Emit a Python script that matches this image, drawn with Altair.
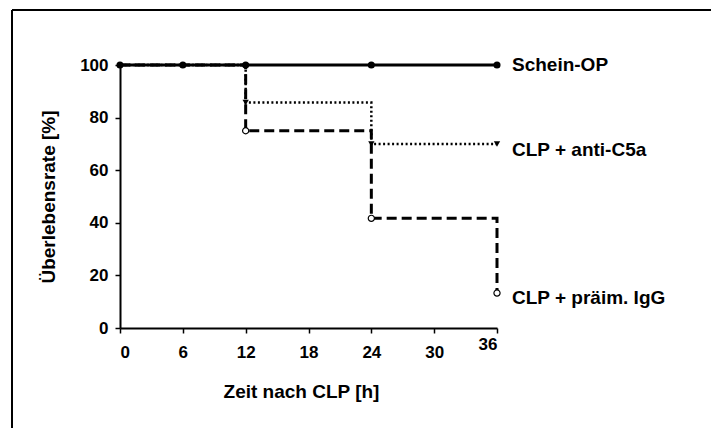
import altair as alt
import pandas as pd

# Data
sham_t = [0, 6, 12, 24, 36]
sham_v = [100, 100, 100, 100, 100]
c5a_t = [0, 12, 24, 36]
c5a_v = [100, 85.7, 70, 70]
igg_t = [0, 12, 24, 36]
igg_v = [100, 75, 41.7, 13.3]
c5a_mark_t = [12, 24, 36]
c5a_mark_v = [85.7, 70, 70]
igg_mark_t = [12, 24, 36]
igg_mark_v = [75, 41.7, 13.3]
x_ticks = [0, 6, 12, 18, 24, 30, 36]
y_ticks = [0, 20, 40, 60, 80, 100]
labels = ["Schein-OP", "CLP + anti-C5a", "CLP + präim. IgG"]
label_v = [sham_v[-1], c5a_v[-1], igg_v[-1]]

FONT = "Liberation Sans"

sham = pd.DataFrame({"t": sham_t, "v": sham_v})
c5a = pd.DataFrame({"t": c5a_t, "v": c5a_v})
igg = pd.DataFrame({"t": igg_t, "v": igg_v})
c5a_m = pd.DataFrame({"t": c5a_mark_t, "v": c5a_mark_v})
igg_m = pd.DataFrame({"t": igg_mark_t, "v": igg_mark_v})

xs = alt.Scale(domain=[0, 36], nice=False, zero=False)
ys = alt.Scale(domain=[0, 100], nice=False)

X = alt.X("t:Q", scale=xs, title="Zeit nach CLP [h]",
          axis=alt.Axis(values=x_ticks, grid=False, titlePadding=22, labelPadding=11,
                        titleX=181,
                        labelBaseline={"condition": {"test": "datum.value == 36",
                                                     "value": "middle"},
                                       "value": "top"}))
Y = alt.Y("v:Q", scale=ys, title="Überlebensrate [%]",
          axis=alt.Axis(values=y_ticks, grid=False, titlePadding=21, labelPadding=7))

base_axes = alt.Chart(sham).mark_line(strokeWidth=3, color="black").encode(x=X, y=Y)

c5a_line = alt.Chart(c5a).mark_line(interpolate="step-after", color="black",
                                    strokeWidth=2.5, strokeDash=[2, 2.5]).encode(x="t:Q", y="v:Q")
igg_line = alt.Chart(igg).mark_line(interpolate="step-after", color="black",
                                    strokeWidth=3, strokeDash=[10, 5]).encode(x="t:Q", y="v:Q")
sham_pts = alt.Chart(sham).mark_point(shape="circle", filled=True, color="black",
                                      size=50, opacity=1).encode(x="t:Q", y="v:Q")
c5a_pts = alt.Chart(c5a_m).mark_point(shape="triangle-down", filled=True, color="black",
                                      size=40, opacity=1).encode(x="t:Q", y="v:Q")
igg_pts = alt.Chart(igg_m).mark_point(shape="circle", filled=True, fill="white",
                                      stroke="black", strokeWidth=1.2, size=38,
                                      opacity=1).encode(x="t:Q", y="v:Q")

def lab(i, dy):
    d = pd.DataFrame({"t": [36], "v": [label_v[i]], "name": [labels[i]]})
    return alt.Chart(d).mark_text(align="left", baseline="middle", dx=15, dy=dy,
                                  font=FONT, fontSize=19, fontWeight="bold",
                                  color="black").encode(x="t:Q", y="v:Q", text="name:N")

frame_top = alt.Chart(sham).mark_rule(stroke="black", strokeWidth=1.5, clip=False).encode(
    x=alt.value(-108), x2=alt.value(700), y=alt.value(-55))
frame_left = alt.Chart(sham).mark_rule(stroke="black", strokeWidth=1.5, clip=False).encode(
    x=alt.value(-108), y=alt.value(-55), y2=alt.value(600))
# white strip on the far right (the reference's frame is open on that side)
right_blank = alt.Chart(sham).mark_rect(fill="white", stroke=None, clip=False).encode(
    x=alt.value(560), x2=alt.value(700), y=alt.value(-52), y2=alt.value(600))

chart = alt.layer(
    frame_top, frame_left, base_axes, c5a_line, igg_line, sham_pts, c5a_pts, igg_pts,
    lab(0, 0), lab(1, 6), lab(2, 5), right_blank
).properties(
    width=377, height=263,
    padding={"left": 112, "top": 57, "right": 214, "bottom": 100},
    autosize=alt.AutoSizeParams(type="none"),
).configure_view(stroke=None).configure_axis(
    domainColor="black", domainWidth=2, tickColor="black", tickWidth=1.5, tickSize=5,
    labelFont=FONT, labelFontSize=17, labelFontWeight="bold", labelColor="black",
    titleFont=FONT, titleFontSize=19, titleFontWeight="bold", titleColor="black",
)

chart.save("out.html", embed_options={"renderer": "svg", "actions": False})
